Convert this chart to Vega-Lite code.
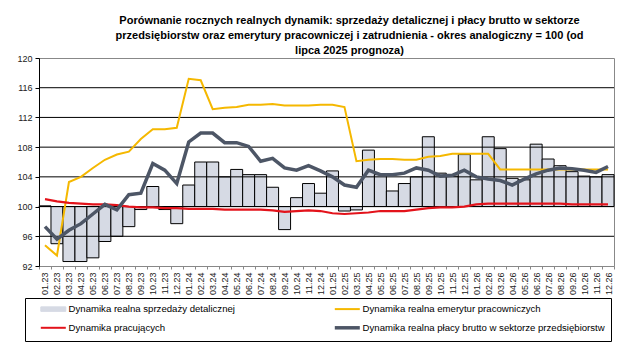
{
  "$schema": "https://vega.github.io/schema/vega-lite/v6.json",
  "width": 575,
  "height": 208,
  "autosize": {"type": "none"},
  "padding": {"left": 39, "top": 58, "right": 17, "bottom": 87},
  "background": "white",
  "config": {
    "font": "Liberation Sans",
    "view": {"stroke": "#888888", "strokeWidth": 1},
    "axis": {"labelFont": "Liberation Sans", "labelColor": "#222222"},
    "axisY": {
      "title": null,
      "labelFontSize": 9,
      "labelPadding": 3,
      "tickSize": 4,
      "tickColor": "#000000",
      "domainColor": "#000000",
      "grid": false
    }
  },
  "title": {
    "text": [
      "Porównanie rocznych realnych dynamik: sprzedaży detalicznej i płacy brutto w sektorze",
      "przedsiębiorstw oraz emerytury pracowniczej i zatrudnienia - okres analogiczny = 100 (od",
      "lipca 2025 prognoza)"
    ],
    "font": "Liberation Sans",
    "fontSize": 11,
    "fontWeight": "bold",
    "color": "#000000",
    "lineHeight": 15,
    "anchor": "middle",
    "offset": -2,
    "dx": 23
  },
  "datasets": {
    "grid": [{"g": 96}, {"g": 100}, {"g": 104}, {"g": 108}, {"g": 112}, {"g": 116}],
    "main": [
      {"m": "01.23", "s": 100.1, "p": 94.8, "e": 101.0, "w": 97.3},
      {"m": "02.23", "s": 95.0, "p": 93.4, "e": 100.7, "w": 95.6},
      {"m": "03.23", "s": 92.6, "p": 103.3, "e": 100.5, "w": 96.8},
      {"m": "04.23", "s": 92.6, "p": 104.0, "e": 100.4, "w": 97.7},
      {"m": "05.23", "s": 93.1, "p": 105.2, "e": 100.3, "w": 99.0},
      {"m": "06.23", "s": 95.3, "p": 106.3, "e": 100.3, "w": 100.3},
      {"m": "07.23", "s": 96.0, "p": 107.0, "e": 100.2, "w": 99.55},
      {"m": "08.23", "s": 97.3, "p": 107.4, "e": 100.0, "w": 101.6},
      {"m": "09.23", "s": 99.6, "p": 109.1, "e": 99.9, "w": 101.8},
      {"m": "10.23", "s": 102.7, "p": 110.4, "e": 99.9, "w": 105.8},
      {"m": "11.23", "s": 99.6, "p": 110.4, "e": 99.8, "w": 104.9},
      {"m": "12.23", "s": 97.7, "p": 110.6, "e": 99.8, "w": 103.1},
      {"m": "01.24", "s": 102.9, "p": 117.2, "e": 99.7, "w": 108.7},
      {"m": "02.24", "s": 106.0, "p": 117.0, "e": 99.7, "w": 109.9},
      {"m": "03.24", "s": 106.0, "p": 113.1, "e": 99.7, "w": 109.9},
      {"m": "04.24", "s": 104.0, "p": 113.3, "e": 99.6, "w": 108.6},
      {"m": "05.24", "s": 105.0, "p": 113.4, "e": 99.6, "w": 108.6},
      {"m": "06.24", "s": 104.3, "p": 113.7, "e": 99.6, "w": 108.1},
      {"m": "07.24", "s": 104.3, "p": 113.7, "e": 99.6, "w": 106.1},
      {"m": "08.24", "s": 102.6, "p": 113.8, "e": 99.5, "w": 106.5},
      {"m": "09.24", "s": 96.9, "p": 113.6, "e": 99.3, "w": 105.2},
      {"m": "10.24", "s": 101.2, "p": 113.6, "e": 99.4, "w": 104.9},
      {"m": "11.24", "s": 103.1, "p": 113.6, "e": 99.5, "w": 105.5},
      {"m": "12.24", "s": 101.8, "p": 113.7, "e": 99.4, "w": 104.8},
      {"m": "01.25", "s": 104.8, "p": 113.7, "e": 99.1, "w": 104.0},
      {"m": "02.25", "s": 99.4, "p": 113.4, "e": 99.0, "w": 102.9},
      {"m": "03.25", "s": 99.55, "p": 106.1, "e": 99.1, "w": 102.6},
      {"m": "04.25", "s": 107.6, "p": 106.3, "e": 99.2, "w": 104.9},
      {"m": "05.25", "s": 104.3, "p": 106.4, "e": 99.4, "w": 104.3},
      {"m": "06.25", "s": 102.1, "p": 106.4, "e": 99.4, "w": 104.3},
      {"m": "07.25", "s": 103.1, "p": 106.3, "e": 99.4, "w": 104.5},
      {"m": "08.25", "s": 104.0, "p": 106.3, "e": 99.6, "w": 105.2},
      {"m": "09.25", "s": 109.4, "p": 106.7, "e": 99.8, "w": 104.9},
      {"m": "10.25", "s": 104.5, "p": 106.8, "e": 99.9, "w": 104.1},
      {"m": "11.25", "s": 104.1, "p": 107.1, "e": 99.9, "w": 104.2},
      {"m": "12.25", "s": 107.0, "p": 107.1, "e": 100.0, "w": 104.9},
      {"m": "01.26", "s": 103.6, "p": 107.1, "e": 100.3, "w": 104.0},
      {"m": "02.26", "s": 109.4, "p": 107.1, "e": 100.4, "w": 103.7},
      {"m": "03.26", "s": 107.8, "p": 105.0, "e": 100.4, "w": 103.5},
      {"m": "04.26", "s": 103.8, "p": 105.0, "e": 100.4, "w": 102.9},
      {"m": "05.26", "s": 103.6, "p": 105.0, "e": 100.4, "w": 103.7},
      {"m": "06.26", "s": 108.4, "p": 105.0, "e": 100.4, "w": 104.4},
      {"m": "07.26", "s": 106.4, "p": 105.0, "e": 100.4, "w": 104.9},
      {"m": "08.26", "s": 105.5, "p": 105.0, "e": 100.4, "w": 105.2},
      {"m": "09.26", "s": 104.7, "p": 105.0, "e": 100.3, "w": 105.1},
      {"m": "10.26", "s": 104.1, "p": 105.0, "e": 100.3, "w": 104.9},
      {"m": "11.26", "s": 104.0, "p": 105.0, "e": 100.3, "w": 104.6},
      {"m": "12.26", "s": 104.3, "p": 105.0, "e": 100.3, "w": 105.4}
    ]
  },
  "layer": [
    {
      "data": {"name": "main"},
      "mark": {"type": "bar", "stroke": "#000000", "strokeWidth": 1, "fillOpacity": 1},
      "encoding": {
        "x": {
          "field": "m",
          "type": "ordinal",
          "sort": null,
          "scale": {"paddingInner": 0, "paddingOuter": 0},
          "axis": {
            "title": null,
            "labelAngle": -90,
            "labelFontSize": 9,
            "labelPadding": 3,
            "domainColor": "#888888",
            "tickColor": "#888888",
            "tickSize": 3,
            "tickBand": "extent",
            "grid": false
          }
        },
        "y": {
          "field": "s",
          "type": "quantitative",
          "scale": {"domain": [92, 120], "nice": false, "zero": false},
          "axis": {"title": null, "values": [92, 96, 100, 104, 108, 112, 116, 120], "labelOverlap": false, "grid": false}
        },
        "y2": {"datum": 100},
        "color": {
          "datum": "Dynamika realna sprzedaży detalicznej",
          "type": "nominal",
          "scale": {
            "domain": [
              "Dynamika realna sprzedaży detalicznej",
              "Dynamika realna emerytur pracowniczych",
              "Dynamika pracujących",
              "Dynamika realna płacy brutto w sektorze przedsiębiorstw"
            ],
            "range": ["#d6dae4", "#f5b800", "#e3131b", "#4d5666"]
          },
          "legend": {
            "title": null,
            "orient": "none",
            "legendX": -14,
            "legendY": 240,
            "direction": "horizontal",
            "columns": 2,
            "gridAlign": "each",
            "columnPadding": 90,
            "rowPadding": 6,
            "padding": 6,
            "strokeColor": "#000000",
            "fillColor": "white",
            "symbolSize": 100,
            "labelFontSize": 9.6,
            "labelFont": "Liberation Sans",
            "labelColor": "#000000",
            "labelOffset": 28,
            "labelLimit": 400,
            "encoding": {
              "symbols": {
                "shape": {"value": {"expr": "datum.value === 'Dynamika realna sprzedaży detalicznej' ? 'M1,-0.45H6V0.45H1Z' : 'M1,0H6'"}},
                "fill": {"value": {"expr": "datum.value === 'Dynamika realna sprzedaży detalicznej' ? '#d6dae4' : 'transparent'"}},
                "stroke": {"value": {"expr": "datum.value === 'Dynamika realna sprzedaży detalicznej' ? '#000000' : datum.value === 'Dynamika realna emerytur pracowniczych' ? '#f5b800' : datum.value === 'Dynamika pracujących' ? '#e3131b' : '#4d5666'"}},
                "strokeWidth": {"value": {"expr": "datum.value === 'Dynamika realna sprzedaży detalicznej' ? 1 : datum.value === 'Dynamika realna płacy brutto w sektorze przedsiębiorstw' ? 3.5 : 2"}},
                "opacity": {"value": 1}
              }
            }
          }
        }
      }
    },
    {
      "data": {"name": "grid"},
      "mark": {"type": "rule", "color": "#000000", "strokeWidth": 1},
      "encoding": {
        "y": {
          "field": "g",
          "type": "quantitative",
          "axis": {"title": null, "values": [92, 96, 100, 104, 108, 112, 116, 120], "labelOverlap": false, "grid": false}
        }
      }
    },
    {
      "data": {"name": "main"},
      "mark": {"type": "line", "strokeWidth": 2},
      "encoding": {
        "x": {"field": "m", "type": "ordinal", "sort": null},
        "y": {
          "field": "p",
          "type": "quantitative",
          "axis": {"title": null, "values": [92, 96, 100, 104, 108, 112, 116, 120], "labelOverlap": false, "grid": false}
        },
        "color": {"datum": "Dynamika realna emerytur pracowniczych", "type": "nominal"}
      }
    },
    {
      "data": {"name": "main"},
      "mark": {"type": "line", "strokeWidth": 2.2},
      "encoding": {
        "x": {"field": "m", "type": "ordinal", "sort": null},
        "y": {
          "field": "e",
          "type": "quantitative",
          "axis": {"title": null, "values": [92, 96, 100, 104, 108, 112, 116, 120], "labelOverlap": false, "grid": false}
        },
        "color": {"datum": "Dynamika pracujących", "type": "nominal"}
      }
    },
    {
      "data": {"name": "main"},
      "mark": {"type": "line", "strokeWidth": 3.5},
      "encoding": {
        "x": {"field": "m", "type": "ordinal", "sort": null},
        "y": {
          "field": "w",
          "type": "quantitative",
          "axis": {"title": null, "values": [92, 96, 100, 104, 108, 112, 116, 120], "labelOverlap": false, "grid": false}
        },
        "color": {"datum": "Dynamika realna płacy brutto w sektorze przedsiębiorstw", "type": "nominal"}
      }
    }
  ]
}
